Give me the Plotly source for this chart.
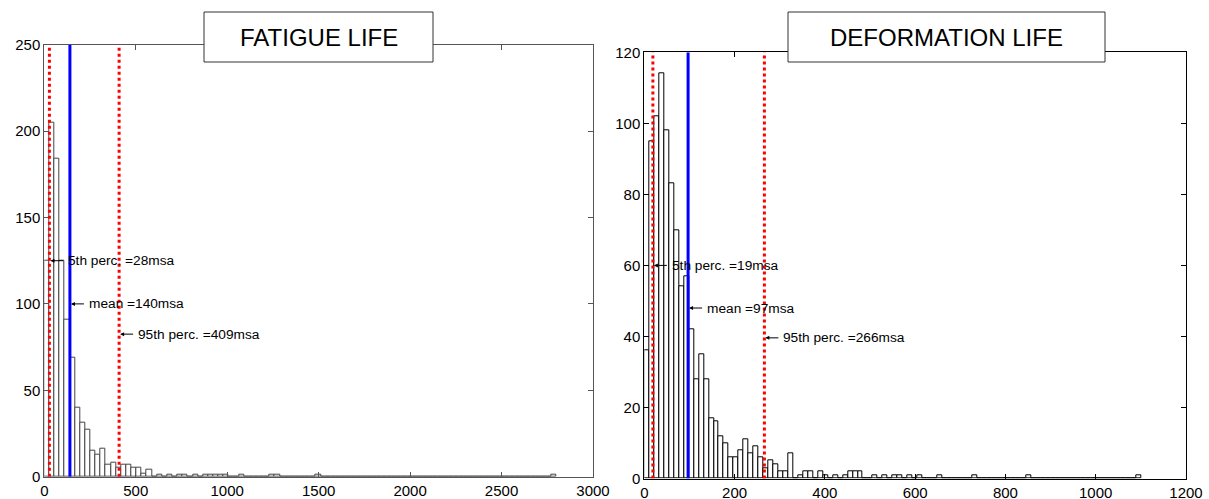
import plotly.graph_objects as go

# ---- data ----
fatigue_bin_width = 28
fatigue_counts = [125, 205, 184, 125, 91, 69, 40, 31, 27, 15,
                  13, 16, 7, 8, 5, 7, 7, 5, 5, 2,
                  4, 0, 1, 0, 1, 0, 1, 1, 0, 1,
                  0, 1, 1, 1, 1, 1, 0, 0, 1, 0,
                  0, 0, 0, 0, 1, 1, 0, 0, 0, 0,
                  0, 0, 0, 1, 0, 0, 0, 0, 0, 0,
                  0, 0, 0, 0, 0, 0, 0, 0, 0, 0,
                  0, 0, 0, 0, 0, 0, 0, 0, 0, 0,
                  0, 0, 0, 0, 0, 0, 0, 0, 0, 0,
                  0, 0, 0, 0, 0, 0, 0, 0, 0, 1]
fatigue_stats = {"p5": 28, "mean": 140, "p95": 409}

deform_bin_width = 11
deform_counts = [36, 95, 102, 114, 98, 83, 70, 54, 57, 42,
                 28, 35, 28, 17, 16, 12, 10, 6, 6, 8,
                 11, 7, 9, 6, 3, 5, 4, 2, 2, 7,
                 0, 1, 2, 2, 0, 2, 1, 0, 1, 0,
                 1, 2, 2, 2, 0, 0, 1, 0, 1, 0,
                 1, 1, 0, 1, 0, 1, 0, 0, 0, 1,
                 0, 0, 0, 0, 0, 0, 1, 0, 0, 0,
                 0, 0, 0, 0, 0, 0, 0, 1, 0, 0,
                 0, 0, 0, 0, 0, 0, 0, 0, 0, 0,
                 0, 0, 0, 0, 0, 0, 0, 0, 0, 1]
deform_stats = {"p5": 19, "mean": 97, "p95": 266}

fatigue_xticks = [0, 500, 1000, 1500, 2000, 2500, 3000]
fatigue_yticks = [0, 50, 100, 150, 200, 250]
deform_xticks = [0, 200, 400, 600, 800, 1000, 1200]
deform_yticks = [0, 20, 40, 60, 80, 100, 120]

titles = ["FATIGUE LIFE", "DEFORMATION LIFE"]

# ---- figure ----
W, H = 1209, 499
FONT = "Arial, Liberation Sans, sans-serif"

fig = go.Figure()


def centers(counts, w):
    return [w / 2 + w * i for i in range(len(counts))]


fig.add_trace(go.Bar(x=centers(fatigue_counts, fatigue_bin_width), y=fatigue_counts,
                     width=fatigue_bin_width, xaxis="x", yaxis="y",
                     marker=dict(color="white", line=dict(color="#444444", width=1)),
                     showlegend=False, hoverinfo="skip"))
fig.add_trace(go.Bar(x=centers(deform_counts, deform_bin_width), y=deform_counts,
                     width=deform_bin_width, xaxis="x2", yaxis="y2",
                     marker=dict(color="white", line=dict(color="black", width=1)),
                     showlegend=False, hoverinfo="skip"))


def px_x(p):
    return p / W


def px_y(p):
    return 1 - p / H


axis_common = dict(showgrid=False, zeroline=False, showline=True, mirror="ticks",
                   ticks="inside", ticklen=5, automargin=False,
                   tickfont=dict(family=FONT, size=15, color="black"),
                   fixedrange=True)

fig.update_layout(
    width=W, height=H,
    margin=dict(l=0, r=0, t=0, b=0, autoexpand=False),
    paper_bgcolor="white", plot_bgcolor="white",
    bargap=0,
    xaxis=dict(domain=[px_x(44.3), px_x(593)], range=[0, 3000], tickvals=fatigue_xticks,
               linecolor="#555555", tickcolor="#555555", anchor="y", **axis_common),
    yaxis=dict(domain=[px_y(476.7), px_y(44.7)], range=[0, 250], tickvals=fatigue_yticks,
               linecolor="#555555", tickcolor="#555555", anchor="x", **axis_common),
    xaxis2=dict(domain=[px_x(644.3), px_x(1186)], range=[0, 1200], tickvals=deform_xticks,
                linecolor="black", tickcolor="black", anchor="y2", **axis_common),
    yaxis2=dict(domain=[px_y(478.5), px_y(52.3)], range=[0, 120], tickvals=deform_yticks,
                linecolor="black", tickcolor="black", anchor="x2", **axis_common),
)

shapes = []
annotations = []
for (xa, ya, stats, ymax) in [("x", "y", fatigue_stats, 250), ("x2", "y2", deform_stats, 120)]:
    for key, color, dash, wd in [("p5", "red", "dot", 3), ("p95", "red", "dot", 3),
                                 ("mean", "blue", "solid", 3)]:
        shapes.append(dict(type="line", xref=xa, yref=ya, x0=stats[key], x1=stats[key],
                           y0=0, y1=ymax, line=dict(color=color, width=wd, dash=dash),
                           layer="above"))
    labels = [("p5", "5th perc.", 0.5), ("mean", "mean", 0.4), ("p95", "95th perc.", 0.33)]
    for key, name, frac in labels:
        annotations.append(dict(xref=xa, yref=ya, x=stats[key], y=ymax * frac,
                                text=f"{name} ={stats[key]}msa", showarrow=True,
                                ax=17, ay=0, arrowhead=2, arrowsize=0.8, arrowwidth=1,
                                arrowcolor="black", standoff=1, startstandoff=3,
                                xanchor="left", yanchor="middle",
                                font=dict(family=FONT, size=13.7, color="black")))

# title boxes
for text, (x0, x1) in zip(titles, [(204, 433), (788, 1105)]):
    shapes.append(dict(type="rect", xref="paper", yref="paper",
                       x0=px_x(x0), x1=px_x(x1), y0=px_y(62), y1=px_y(12),
                       fillcolor="white", line=dict(color="#333333", width=1), layer="above"))
    annotations.append(dict(xref="paper", yref="paper", x=px_x((x0 + x1) / 2), y=px_y(38),
                            text=text, showarrow=False, xanchor="center", yanchor="middle",
                            font=dict(family=FONT, size=24, color="black")))

fig.update_layout(shapes=shapes, annotations=annotations)

fig.write_html("out.html", config={"displayModeBar": False},
               post_script="document.body.style.margin='0';document.body.style.overflow='hidden';")
